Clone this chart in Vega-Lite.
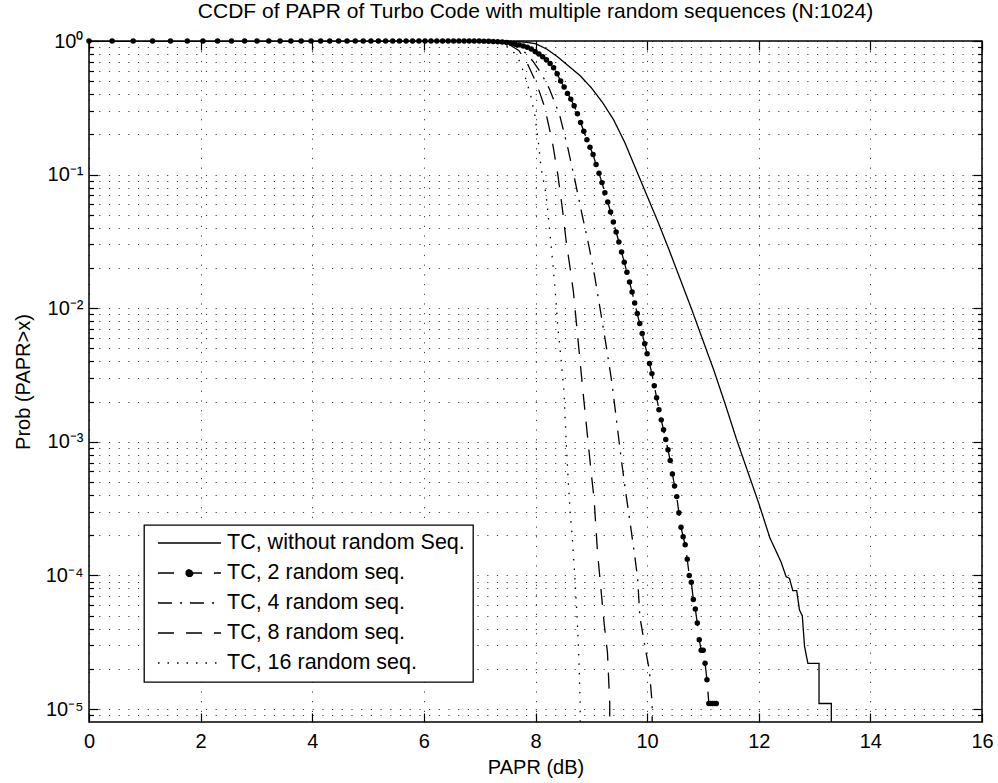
{
 "$schema": "https://vega.github.io/schema/vega-lite/v6.json",
 "width": 893,
 "height": 681,
 "autosize": {"type": "none"},
 "padding": {"left": 89, "top": 41, "right": 16, "bottom": 61},
 "background": "white",
 "config": {
  "font": "Liberation Sans",
  "view": {"stroke": "black", "strokeWidth": 1.5},
  "axis": {"domain": false, "labelFont": "Liberation Sans", "labelFontSize": 20, "labelColor": "black", "titleFont": "Liberation Sans", "titleFontSize": 20, "titleFontWeight": "normal", "titleColor": "black", "tickColor": "black", "tickWidth": 1.2, "gridColor": "black", "gridDash": [1.2, 8.5], "gridWidth": 1, "gridOpacity": 0.75, "labelOverlap": false, "labelFlush": false}
 },
 "title": {"text": "CCDF of PAPR of Turbo Code with multiple random sequences (N:1024)", "font": "Liberation Sans", "fontSize": 21, "fontWeight": "normal", "color": "black", "anchor": "middle", "offset": 9},
 "datasets": {
  "dummy": [{"x": 0, "p": 1}],
  "curves": [
   {"s": "TC, without random Seq.", "i": 0, "x": 0, "p": 1},
   {"s": "TC, without random Seq.", "i": 1, "x": 7.0, "p": 0.9989},
   {"s": "TC, without random Seq.", "i": 2, "x": 7.5, "p": 0.9954},
   {"s": "TC, without random Seq.", "i": 3, "x": 7.8, "p": 0.9817},
   {"s": "TC, without random Seq.", "i": 4, "x": 8.0, "p": 0.955},
   {"s": "TC, without random Seq.", "i": 5, "x": 8.2, "p": 0.871},
   {"s": "TC, without random Seq.", "i": 6, "x": 8.4, "p": 0.759},
   {"s": "TC, without random Seq.", "i": 7, "x": 8.6, "p": 0.646},
   {"s": "TC, without random Seq.", "i": 8, "x": 8.8, "p": 0.55},
   {"s": "TC, without random Seq.", "i": 9, "x": 9.0, "p": 0.447},
   {"s": "TC, without random Seq.", "i": 10, "x": 9.2, "p": 0.347},
   {"s": "TC, without random Seq.", "i": 11, "x": 9.4, "p": 0.257},
   {"s": "TC, without random Seq.", "i": 12, "x": 9.6, "p": 0.174},
   {"s": "TC, without random Seq.", "i": 13, "x": 9.8, "p": 0.1096},
   {"s": "TC, without random Seq.", "i": 14, "x": 10.0, "p": 0.0692},
   {"s": "TC, without random Seq.", "i": 15, "x": 10.2, "p": 0.0437},
   {"s": "TC, without random Seq.", "i": 16, "x": 10.4, "p": 0.0269},
   {"s": "TC, without random Seq.", "i": 17, "x": 10.6, "p": 0.0162},
   {"s": "TC, without random Seq.", "i": 18, "x": 10.8, "p": 0.00977},
   {"s": "TC, without random Seq.", "i": 19, "x": 11.0, "p": 0.00575},
   {"s": "TC, without random Seq.", "i": 20, "x": 11.2, "p": 0.00339},
   {"s": "TC, without random Seq.", "i": 21, "x": 11.4, "p": 0.00191},
   {"s": "TC, without random Seq.", "i": 22, "x": 11.6, "p": 0.00105},
   {"s": "TC, without random Seq.", "i": 23, "x": 11.8, "p": 0.000603},
   {"s": "TC, without random Seq.", "i": 24, "x": 12.0, "p": 0.000347},
   {"s": "TC, without random Seq.", "i": 25, "x": 12.2, "p": 0.000191},
   {"s": "TC, without random Seq.", "i": 26, "x": 12.4, "p": 0.000126},
   {"s": "TC, without random Seq.", "i": 27, "x": 12.49, "p": 0.000098},
   {"s": "TC, without random Seq.", "i": 28, "x": 12.55, "p": 0.000095},
   {"s": "TC, without random Seq.", "i": 29, "x": 12.61, "p": 0.000077},
   {"s": "TC, without random Seq.", "i": 30, "x": 12.68, "p": 0.000077},
   {"s": "TC, without random Seq.", "i": 31, "x": 12.73, "p": 0.000055},
   {"s": "TC, without random Seq.", "i": 32, "x": 12.78, "p": 0.00005},
   {"s": "TC, without random Seq.", "i": 33, "x": 12.82, "p": 0.0000295},
   {"s": "TC, without random Seq.", "i": 34, "x": 12.88, "p": 0.000022},
   {"s": "TC, without random Seq.", "i": 35, "x": 13.08, "p": 0.000022},
   {"s": "TC, without random Seq.", "i": 36, "x": 13.08, "p": 0.000011},
   {"s": "TC, without random Seq.", "i": 37, "x": 13.3, "p": 0.000011},
   {"s": "TC, without random Seq.", "i": 38, "x": 13.3, "p": 0.000005},

   {"s": "TC, 2 random seq.", "i": 0, "x": 0, "p": 1},
   {"s": "TC, 2 random seq.", "i": 1, "x": 0.414, "p": 1},
   {"s": "TC, 2 random seq.", "i": 2, "x": 0.792, "p": 1},
   {"s": "TC, 2 random seq.", "i": 3, "x": 1.139, "p": 1},
   {"s": "TC, 2 random seq.", "i": 4, "x": 1.461, "p": 1},
   {"s": "TC, 2 random seq.", "i": 5, "x": 1.761, "p": 1},
   {"s": "TC, 2 random seq.", "i": 6, "x": 2.041, "p": 1},
   {"s": "TC, 2 random seq.", "i": 7, "x": 2.304, "p": 1},
   {"s": "TC, 2 random seq.", "i": 8, "x": 2.553, "p": 1},
   {"s": "TC, 2 random seq.", "i": 9, "x": 2.788, "p": 1},
   {"s": "TC, 2 random seq.", "i": 10, "x": 3.01, "p": 1},
   {"s": "TC, 2 random seq.", "i": 11, "x": 3.222, "p": 1},
   {"s": "TC, 2 random seq.", "i": 12, "x": 3.424, "p": 1},
   {"s": "TC, 2 random seq.", "i": 13, "x": 3.617, "p": 1},
   {"s": "TC, 2 random seq.", "i": 14, "x": 3.802, "p": 1},
   {"s": "TC, 2 random seq.", "i": 15, "x": 3.979, "p": 1},
   {"s": "TC, 2 random seq.", "i": 16, "x": 4.15, "p": 1},
   {"s": "TC, 2 random seq.", "i": 17, "x": 4.314, "p": 1},
   {"s": "TC, 2 random seq.", "i": 18, "x": 4.472, "p": 1},
   {"s": "TC, 2 random seq.", "i": 19, "x": 4.624, "p": 1},
   {"s": "TC, 2 random seq.", "i": 20, "x": 4.771, "p": 1},
   {"s": "TC, 2 random seq.", "i": 21, "x": 4.914, "p": 1},
   {"s": "TC, 2 random seq.", "i": 22, "x": 5.051, "p": 1},
   {"s": "TC, 2 random seq.", "i": 23, "x": 5.185, "p": 1},
   {"s": "TC, 2 random seq.", "i": 24, "x": 5.315, "p": 1},
   {"s": "TC, 2 random seq.", "i": 25, "x": 5.441, "p": 1},
   {"s": "TC, 2 random seq.", "i": 26, "x": 5.563, "p": 1},
   {"s": "TC, 2 random seq.", "i": 27, "x": 5.682, "p": 1},
   {"s": "TC, 2 random seq.", "i": 28, "x": 5.798, "p": 1},
   {"s": "TC, 2 random seq.", "i": 29, "x": 5.911, "p": 1},
   {"s": "TC, 2 random seq.", "i": 30, "x": 6.021, "p": 1},
   {"s": "TC, 2 random seq.", "i": 31, "x": 6.128, "p": 1},
   {"s": "TC, 2 random seq.", "i": 32, "x": 6.232, "p": 1},
   {"s": "TC, 2 random seq.", "i": 33, "x": 6.335, "p": 1},
   {"s": "TC, 2 random seq.", "i": 34, "x": 6.435, "p": 1},
   {"s": "TC, 2 random seq.", "i": 35, "x": 6.532, "p": 1},
   {"s": "TC, 2 random seq.", "i": 36, "x": 6.628, "p": 1},
   {"s": "TC, 2 random seq.", "i": 37, "x": 6.721, "p": 1},
   {"s": "TC, 2 random seq.", "i": 38, "x": 6.812, "p": 0.9998},
   {"s": "TC, 2 random seq.", "i": 39, "x": 6.902, "p": 0.9995},
   {"s": "TC, 2 random seq.", "i": 40, "x": 6.99, "p": 0.999},
   {"s": "TC, 2 random seq.", "i": 41, "x": 7.076, "p": 0.9977},
   {"s": "TC, 2 random seq.", "i": 42, "x": 7.16, "p": 0.9954},
   {"s": "TC, 2 random seq.", "i": 43, "x": 7.243, "p": 0.9931},
   {"s": "TC, 2 random seq.", "i": 44, "x": 7.324, "p": 0.9886},
   {"s": "TC, 2 random seq.", "i": 45, "x": 7.404, "p": 0.9817},
   {"s": "TC, 2 random seq.", "i": 46, "x": 7.482, "p": 0.9727},
   {"s": "TC, 2 random seq.", "i": 47, "x": 7.559, "p": 0.9616},
   {"s": "TC, 2 random seq.", "i": 48, "x": 7.634, "p": 0.9506},
   {"s": "TC, 2 random seq.", "i": 49, "x": 7.709, "p": 0.9354},
   {"s": "TC, 2 random seq.", "i": 50, "x": 7.782, "p": 0.9183},
   {"s": "TC, 2 random seq.", "i": 51, "x": 7.853, "p": 0.8974},
   {"s": "TC, 2 random seq.", "i": 52, "x": 7.924, "p": 0.871},
   {"s": "TC, 2 random seq.", "i": 53, "x": 7.993, "p": 0.8356},
   {"s": "TC, 2 random seq.", "i": 54, "x": 8.062, "p": 0.7998},
   {"s": "TC, 2 random seq.", "i": 55, "x": 8.129, "p": 0.7621},
   {"s": "TC, 2 random seq.", "i": 56, "x": 8.195, "p": 0.7244},
   {"s": "TC, 2 random seq.", "i": 57, "x": 8.261, "p": 0.6792},
   {"s": "TC, 2 random seq.", "i": 58, "x": 8.325, "p": 0.631},
   {"s": "TC, 2 random seq.", "i": 59, "x": 8.388, "p": 0.5689},
   {"s": "TC, 2 random seq.", "i": 60, "x": 8.451, "p": 0.5012},
   {"s": "TC, 2 random seq.", "i": 61, "x": 8.513, "p": 0.4519},
   {"s": "TC, 2 random seq.", "i": 62, "x": 8.573, "p": 0.4055},
   {"s": "TC, 2 random seq.", "i": 63, "x": 8.633, "p": 0.3673},
   {"s": "TC, 2 random seq.", "i": 64, "x": 8.692, "p": 0.3273},
   {"s": "TC, 2 random seq.", "i": 65, "x": 8.751, "p": 0.2851},
   {"s": "TC, 2 random seq.", "i": 66, "x": 8.808, "p": 0.2455},
   {"s": "TC, 2 random seq.", "i": 67, "x": 8.865, "p": 0.2113},
   {"s": "TC, 2 random seq.", "i": 68, "x": 8.921, "p": 0.182},
   {"s": "TC, 2 random seq.", "i": 69, "x": 8.976, "p": 0.1603},
   {"s": "TC, 2 random seq.", "i": 70, "x": 9.031, "p": 0.1413},
   {"s": "TC, 2 random seq.", "i": 71, "x": 9.085, "p": 0.1189},
   {"s": "TC, 2 random seq.", "i": 72, "x": 9.138, "p": 0.1023},
   {"s": "TC, 2 random seq.", "i": 73, "x": 9.191, "p": 0.0871},
   {"s": "TC, 2 random seq.", "i": 74, "x": 9.243, "p": 0.0733},
   {"s": "TC, 2 random seq.", "i": 75, "x": 9.294, "p": 0.0624},
   {"s": "TC, 2 random seq.", "i": 76, "x": 9.345, "p": 0.0525},
   {"s": "TC, 2 random seq.", "i": 77, "x": 9.395, "p": 0.0442},
   {"s": "TC, 2 random seq.", "i": 78, "x": 9.445, "p": 0.0372},
   {"s": "TC, 2 random seq.", "i": 79, "x": 9.494, "p": 0.0313},
   {"s": "TC, 2 random seq.", "i": 80, "x": 9.542, "p": 0.0263},
   {"s": "TC, 2 random seq.", "i": 81, "x": 9.59, "p": 0.0221},
   {"s": "TC, 2 random seq.", "i": 82, "x": 9.638, "p": 0.0186},
   {"s": "TC, 2 random seq.", "i": 83, "x": 9.685, "p": 0.0157},
   {"s": "TC, 2 random seq.", "i": 84, "x": 9.731, "p": 0.0132},
   {"s": "TC, 2 random seq.", "i": 85, "x": 9.777, "p": 0.01096},
   {"s": "TC, 2 random seq.", "i": 86, "x": 9.823, "p": 0.00912},
   {"s": "TC, 2 random seq.", "i": 87, "x": 9.868, "p": 0.00767},
   {"s": "TC, 2 random seq.", "i": 88, "x": 9.912, "p": 0.00646},
   {"s": "TC, 2 random seq.", "i": 89, "x": 9.956, "p": 0.00543},
   {"s": "TC, 2 random seq.", "i": 90, "x": 10.0, "p": 0.00457},
   {"s": "TC, 2 random seq.", "i": 91, "x": 10.043, "p": 0.00385},
   {"s": "TC, 2 random seq.", "i": 92, "x": 10.086, "p": 0.00324},
   {"s": "TC, 2 random seq.", "i": 93, "x": 10.128, "p": 0.00263},
   {"s": "TC, 2 random seq.", "i": 94, "x": 10.17, "p": 0.00214},
   {"s": "TC, 2 random seq.", "i": 95, "x": 10.212, "p": 0.00174},
   {"s": "TC, 2 random seq.", "i": 96, "x": 10.253, "p": 0.00146},
   {"s": "TC, 2 random seq.", "i": 97, "x": 10.294, "p": 0.00123},
   {"s": "TC, 2 random seq.", "i": 98, "x": 10.334, "p": 0.00104},
   {"s": "TC, 2 random seq.", "i": 99, "x": 10.374, "p": 0.000871},
   {"s": "TC, 2 random seq.", "i": 100, "x": 10.414, "p": 0.000724},
   {"s": "TC, 2 random seq.", "i": 101, "x": 10.453, "p": 0.000575},
   {"s": "TC, 2 random seq.", "i": 102, "x": 10.492, "p": 0.000468},
   {"s": "TC, 2 random seq.", "i": 103, "x": 10.531, "p": 0.000389},
   {"s": "TC, 2 random seq.", "i": 104, "x": 10.569, "p": 0.000295},
   {"s": "TC, 2 random seq.", "i": 105, "x": 10.607, "p": 0.000229},
   {"s": "TC, 2 random seq.", "i": 106, "x": 10.645, "p": 0.000195},
   {"s": "TC, 2 random seq.", "i": 107, "x": 10.682, "p": 0.00017},
   {"s": "TC, 2 random seq.", "i": 108, "x": 10.719, "p": 0.000132},
   {"s": "TC, 2 random seq.", "i": 109, "x": 10.755, "p": 0.0001},
   {"s": "TC, 2 random seq.", "i": 110, "x": 10.792, "p": 0.000089},
   {"s": "TC, 2 random seq.", "i": 111, "x": 10.828, "p": 0.000066},
   {"s": "TC, 2 random seq.", "i": 112, "x": 10.864, "p": 0.000056},
   {"s": "TC, 2 random seq.", "i": 113, "x": 10.899, "p": 0.000044},
   {"s": "TC, 2 random seq.", "i": 114, "x": 10.934, "p": 0.000033},
   {"s": "TC, 2 random seq.", "i": 115, "x": 10.969, "p": 0.0000275},
   {"s": "TC, 2 random seq.", "i": 116, "x": 11.004, "p": 0.0000275},
   {"s": "TC, 2 random seq.", "i": 117, "x": 11.038, "p": 0.000022},
   {"s": "TC, 2 random seq.", "i": 118, "x": 11.072, "p": 0.0000166},
   {"s": "TC, 2 random seq.", "i": 119, "x": 11.106, "p": 0.000011},
   {"s": "TC, 2 random seq.", "i": 120, "x": 11.139, "p": 0.000011},
   {"s": "TC, 2 random seq.", "i": 121, "x": 11.173, "p": 0.000011},
   {"s": "TC, 2 random seq.", "i": 122, "x": 11.206, "p": 0.000011},
   {"s": "TC, 2 random seq.", "i": 123, "x": 11.239, "p": 0.000011},

   {"s": "TC, 4 random seq.", "i": 0, "x": 0, "p": 1},
   {"s": "TC, 4 random seq.", "i": 1, "x": 7.0, "p": 0.9977},
   {"s": "TC, 4 random seq.", "i": 2, "x": 7.3, "p": 0.9908},
   {"s": "TC, 4 random seq.", "i": 3, "x": 7.5, "p": 0.9727},
   {"s": "TC, 4 random seq.", "i": 4, "x": 7.7, "p": 0.891},
   {"s": "TC, 4 random seq.", "i": 5, "x": 7.85, "p": 0.794},
   {"s": "TC, 4 random seq.", "i": 6, "x": 7.96, "p": 0.7},
   {"s": "TC, 4 random seq.", "i": 7, "x": 8.1, "p": 0.575},
   {"s": "TC, 4 random seq.", "i": 8, "x": 8.25, "p": 0.437},
   {"s": "TC, 4 random seq.", "i": 9, "x": 8.43, "p": 0.282},
   {"s": "TC, 4 random seq.", "i": 10, "x": 8.58, "p": 0.158},
   {"s": "TC, 4 random seq.", "i": 11, "x": 8.7, "p": 0.0933},
   {"s": "TC, 4 random seq.", "i": 12, "x": 8.84, "p": 0.049},
   {"s": "TC, 4 random seq.", "i": 13, "x": 8.96, "p": 0.0288},
   {"s": "TC, 4 random seq.", "i": 14, "x": 9.06, "p": 0.0174},
   {"s": "TC, 4 random seq.", "i": 15, "x": 9.16, "p": 0.00977},
   {"s": "TC, 4 random seq.", "i": 16, "x": 9.27, "p": 0.00513},
   {"s": "TC, 4 random seq.", "i": 17, "x": 9.37, "p": 0.00275},
   {"s": "TC, 4 random seq.", "i": 18, "x": 9.44, "p": 0.00158},
   {"s": "TC, 4 random seq.", "i": 19, "x": 9.54, "p": 0.000724},
   {"s": "TC, 4 random seq.", "i": 20, "x": 9.61, "p": 0.000437},
   {"s": "TC, 4 random seq.", "i": 21, "x": 9.69, "p": 0.000257},
   {"s": "TC, 4 random seq.", "i": 22, "x": 9.78, "p": 0.000138},
   {"s": "TC, 4 random seq.", "i": 23, "x": 9.83, "p": 0.000095},
   {"s": "TC, 4 random seq.", "i": 24, "x": 9.87, "p": 0.000049},
   {"s": "TC, 4 random seq.", "i": 25, "x": 9.96, "p": 0.0000295},
   {"s": "TC, 4 random seq.", "i": 26, "x": 10.04, "p": 0.0000195},
   {"s": "TC, 4 random seq.", "i": 27, "x": 10.09, "p": 0.000011},
   {"s": "TC, 4 random seq.", "i": 28, "x": 10.09, "p": 0.000005},

   {"s": "TC, 8 random seq.", "i": 0, "x": 0, "p": 1},
   {"s": "TC, 8 random seq.", "i": 1, "x": 7.0, "p": 0.9977},
   {"s": "TC, 8 random seq.", "i": 2, "x": 7.3, "p": 0.9863},
   {"s": "TC, 8 random seq.", "i": 3, "x": 7.5, "p": 0.955},
   {"s": "TC, 8 random seq.", "i": 4, "x": 7.7, "p": 0.851},
   {"s": "TC, 8 random seq.", "i": 5, "x": 7.84, "p": 0.7},
   {"s": "TC, 8 random seq.", "i": 6, "x": 8.02, "p": 0.479},
   {"s": "TC, 8 random seq.", "i": 7, "x": 8.16, "p": 0.324},
   {"s": "TC, 8 random seq.", "i": 8, "x": 8.3, "p": 0.178},
   {"s": "TC, 8 random seq.", "i": 9, "x": 8.4, "p": 0.1},
   {"s": "TC, 8 random seq.", "i": 10, "x": 8.48, "p": 0.0562},
   {"s": "TC, 8 random seq.", "i": 11, "x": 8.55, "p": 0.0316},
   {"s": "TC, 8 random seq.", "i": 12, "x": 8.62, "p": 0.02},
   {"s": "TC, 8 random seq.", "i": 13, "x": 8.68, "p": 0.0132},
   {"s": "TC, 8 random seq.", "i": 14, "x": 8.76, "p": 0.00589},
   {"s": "TC, 8 random seq.", "i": 15, "x": 8.85, "p": 0.0024},
   {"s": "TC, 8 random seq.", "i": 16, "x": 8.93, "p": 0.00112},
   {"s": "TC, 8 random seq.", "i": 17, "x": 9.0, "p": 0.000575},
   {"s": "TC, 8 random seq.", "i": 18, "x": 9.05, "p": 0.000372},
   {"s": "TC, 8 random seq.", "i": 19, "x": 9.11, "p": 0.000151},
   {"s": "TC, 8 random seq.", "i": 20, "x": 9.15, "p": 0.0001},
   {"s": "TC, 8 random seq.", "i": 21, "x": 9.23, "p": 0.0000437},
   {"s": "TC, 8 random seq.", "i": 22, "x": 9.29, "p": 0.0000263},
   {"s": "TC, 8 random seq.", "i": 23, "x": 9.33, "p": 0.000011},
   {"s": "TC, 8 random seq.", "i": 24, "x": 9.33, "p": 0.000005},

   {"s": "TC, 16 random seq.", "i": 0, "x": 0, "p": 1},
   {"s": "TC, 16 random seq.", "i": 1, "x": 7.0, "p": 0.9954},
   {"s": "TC, 16 random seq.", "i": 2, "x": 7.3, "p": 0.977},
   {"s": "TC, 16 random seq.", "i": 3, "x": 7.5, "p": 0.912},
   {"s": "TC, 16 random seq.", "i": 4, "x": 7.62, "p": 0.813},
   {"s": "TC, 16 random seq.", "i": 5, "x": 7.72, "p": 0.7},
   {"s": "TC, 16 random seq.", "i": 6, "x": 7.84, "p": 0.501},
   {"s": "TC, 16 random seq.", "i": 7, "x": 7.92, "p": 0.38},
   {"s": "TC, 16 random seq.", "i": 8, "x": 7.99, "p": 0.275},
   {"s": "TC, 16 random seq.", "i": 9, "x": 8.05, "p": 0.178},
   {"s": "TC, 16 random seq.", "i": 10, "x": 8.1, "p": 0.112},
   {"s": "TC, 16 random seq.", "i": 11, "x": 8.19, "p": 0.0708},
   {"s": "TC, 16 random seq.", "i": 12, "x": 8.25, "p": 0.0398},
   {"s": "TC, 16 random seq.", "i": 13, "x": 8.3, "p": 0.024},
   {"s": "TC, 16 random seq.", "i": 14, "x": 8.35, "p": 0.0141},
   {"s": "TC, 16 random seq.", "i": 15, "x": 8.4, "p": 0.00724},
   {"s": "TC, 16 random seq.", "i": 16, "x": 8.46, "p": 0.00407},
   {"s": "TC, 16 random seq.", "i": 17, "x": 8.51, "p": 0.0024},
   {"s": "TC, 16 random seq.", "i": 18, "x": 8.55, "p": 0.001},
   {"s": "TC, 16 random seq.", "i": 19, "x": 8.58, "p": 0.000575},
   {"s": "TC, 16 random seq.", "i": 20, "x": 8.62, "p": 0.000302},
   {"s": "TC, 16 random seq.", "i": 21, "x": 8.66, "p": 0.000191},
   {"s": "TC, 16 random seq.", "i": 22, "x": 8.7, "p": 0.000105},
   {"s": "TC, 16 random seq.", "i": 23, "x": 8.75, "p": 0.0000447},
   {"s": "TC, 16 random seq.", "i": 24, "x": 8.78, "p": 0.0000224},
   {"s": "TC, 16 random seq.", "i": 25, "x": 8.8, "p": 0.000011},
   {"s": "TC, 16 random seq.", "i": 26, "x": 8.8, "p": 0.000005}
  ]
 },
 "layer": [
  {
   "data": {"name": "curves"},
   "mark": {"type": "line", "clip": true, "color": "black", "strokeWidth": 1.3},
   "encoding": {
    "x": {"field": "x", "type": "quantitative", "scale": {"domain": [0, 16], "nice": false, "zero": false},
     "axis": {"orient": "bottom", "values": [0, 2, 4, 6, 8, 10, 12, 14, 16], "tickSize": -9, "labelPadding": 18, "grid": true, "title": "PAPR (dB)", "titlePadding": 6}},
    "y": {"field": "p", "type": "quantitative", "scale": {"type": "log", "domain": [0.000008, 1], "nice": false},
     "axis": {"orient": "left", "grid": true,
      "values": [1, 0.9, 0.8, 0.7, 0.6, 0.5, 0.4, 0.3, 0.2, 0.1, 0.09, 0.08, 0.07, 0.06, 0.05, 0.04, 0.03, 0.02, 0.01, 0.009, 0.008, 0.007, 0.006, 0.005, 0.004, 0.003, 0.002, 0.001, 0.0009, 0.0008, 0.0007, 0.0006, 0.0005, 0.0004, 0.0003, 0.0002, 0.0001, 0.00009, 0.00008, 0.00007, 0.00006, 0.00005, 0.00004, 0.00003, 0.00002, 0.00001, 0.000009],
      "tickSize": {"condition": {"test": "abs(log(datum.value)/LN10 - round(log(datum.value)/LN10)) < 0.001", "value": -9}, "value": -4.5},
      "labelPadding": 15,
      "labelExpr": "abs(log(datum.value)/LN10 - round(log(datum.value)/LN10)) < 0.001 ? ['10⁰','10⁻¹','10⁻²','10⁻³','10⁻⁴','10⁻⁵'][-round(log(datum.value)/LN10)] : ''",
      "title": "Prob (PAPR>x)", "titlePadding": 12}},
    "strokeDash": {"field": "s", "type": "nominal",
     "scale": {"domain": ["TC, without random Seq.", "TC, 2 random seq.", "TC, 4 random seq.", "TC, 8 random seq.", "TC, 16 random seq."],
      "range": [[1, 0], [16, 12], [14, 8, 2, 8], [16, 12], [1.5, 8]]},
     "legend": {"orient": "none", "legendX": 55, "legendY": 484, "title": null, "strokeColor": "black", "fillColor": "white", "padding": 8,
      "symbolType": "stroke", "symbolSize": 3969, "symbolStrokeWidth": 1.3, "symbolStrokeColor": "black", "symbolOffset": 5,
      "labelOffset": 5, "labelFont": "Liberation Sans", "labelFontSize": 21.5, "labelColor": "black", "labelLimit": 400, "clipHeight": 20, "rowPadding": 8,
      "encode": {
       "legend": {"update": {"strokeWidth": {"value": 1.3}}},
       "symbols": {"update": {
        "shape": {"signal": "datum.value === 'TC, 2 random seq.' ? 'M-1,0H1M0.11,0A0.11,0.11,0,1,1,-0.11,0A0.11,0.11,0,1,1,0.11,0Z' : 'stroke'"},
        "fill": {"signal": "datum.value === 'TC, 2 random seq.' ? 'black' : 'transparent'"},
        "stroke": {"value": "black"},
        "strokeWidth": {"value": 1.3},
        "opacity": {"value": 1},
        "strokeDash": {"scale": "strokeDash", "field": "value"}}}}}},
    "order": {"field": "i", "type": "quantitative"}
   }
  },
  {
   "data": {"name": "curves"},
   "transform": [{"filter": "datum.s === 'TC, 2 random seq.'"}],
   "mark": {"type": "point", "filled": true, "color": "black", "size": 30, "opacity": 1, "shape": "circle"},
   "encoding": {
    "x": {"field": "x", "type": "quantitative", "scale": {"domain": [0, 16], "nice": false, "zero": false}, "axis": null},
    "y": {"field": "p", "type": "quantitative", "scale": {"type": "log", "domain": [0.000008, 1], "nice": false}, "axis": null}
   }
  },
  {
   "data": {"name": "dummy"},
   "mark": {"type": "point", "opacity": 0},
   "encoding": {
    "x": {"field": "x", "type": "quantitative", "scale": {"domain": [0, 16], "nice": false, "zero": false},
     "axis": {"orient": "top", "values": [0, 2, 4, 6, 8, 10, 12, 14, 16], "labels": false, "grid": false, "tickSize": -9, "title": null}},
    "y": {"field": "p", "type": "quantitative", "scale": {"type": "log", "domain": [0.000008, 1], "nice": false},
     "axis": {"orient": "right", "labels": false, "grid": false, "title": null,
      "values": [1, 0.9, 0.8, 0.7, 0.6, 0.5, 0.4, 0.3, 0.2, 0.1, 0.09, 0.08, 0.07, 0.06, 0.05, 0.04, 0.03, 0.02, 0.01, 0.009, 0.008, 0.007, 0.006, 0.005, 0.004, 0.003, 0.002, 0.001, 0.0009, 0.0008, 0.0007, 0.0006, 0.0005, 0.0004, 0.0003, 0.0002, 0.0001, 0.00009, 0.00008, 0.00007, 0.00006, 0.00005, 0.00004, 0.00003, 0.00002, 0.00001, 0.000009],
      "tickSize": {"condition": {"test": "abs(log(datum.value)/LN10 - round(log(datum.value)/LN10)) < 0.001", "value": -9}, "value": -4.5}}}
   }
  }
 ],
 "resolve": {"axis": {"x": "independent", "y": "independent"}}
}
